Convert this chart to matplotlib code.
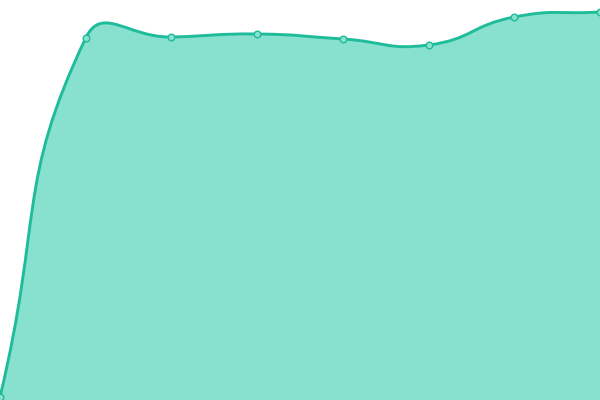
import matplotlib
matplotlib.use("Agg")
import matplotlib.pyplot as plt
import numpy as np
from matplotlib.path import Path
from matplotlib.patches import PathPatch

# values
x = [0, 1, 2, 3, 4, 5, 6, 7]
y = [3, 362, 363, 366, 361, 355, 383, 388]

line_col = "#1fbc9b"
fill_col = "#88e0cf"

fig = plt.figure(figsize=(6, 4), dpi=100)
ax = fig.add_axes([0, 0, 1, 1])
ax.set_xlim(0, 7)
ax.set_ylim(0, 400)
ax.axis("off")

# smooth bezier (echarts style), control points worked out in pixel space
pts = ax.transData.transform(np.column_stack([x, y]))
smooth = 0.5
n = len(pts)
cps = []
for i in range(n):
    p = pts[i]
    prev = pts[i - 1] if i > 0 else p
    nxt = pts[i + 1] if i < n - 1 else p
    v = nxt - prev
    d0 = np.hypot(*(p - prev))
    d1 = np.hypot(*(p - nxt))
    s = d0 + d1
    if s == 0:
        cps.append((p, p))
        continue
    cps.append((p - v * smooth * d0 / s, p + v * smooth * d1 / s))

verts = [pts[0]]
codes = [Path.MOVETO]
for i in range(n - 1):
    verts += [cps[i][1], cps[i + 1][0], pts[i + 1]]
    codes += [Path.CURVE4] * 3
inv = ax.transData.inverted()
verts = inv.transform(np.array(verts))

curve = Path(verts, codes)
fill_verts = np.vstack([verts, [[x[-1], 0], [x[0], 0], verts[0]]])
fill_codes = codes + [Path.LINETO, Path.LINETO, Path.CLOSEPOLY]
ax.add_patch(PathPatch(Path(fill_verts, fill_codes), facecolor=fill_col, edgecolor="none"))
ax.add_patch(PathPatch(curve, facecolor="none", edgecolor=line_col, lw=2.1))

ax.plot(x, y, "o", ms=4.8, mfc=fill_col, mec=line_col, mew=1.0)

fig.savefig("out.png", dpi=100)
